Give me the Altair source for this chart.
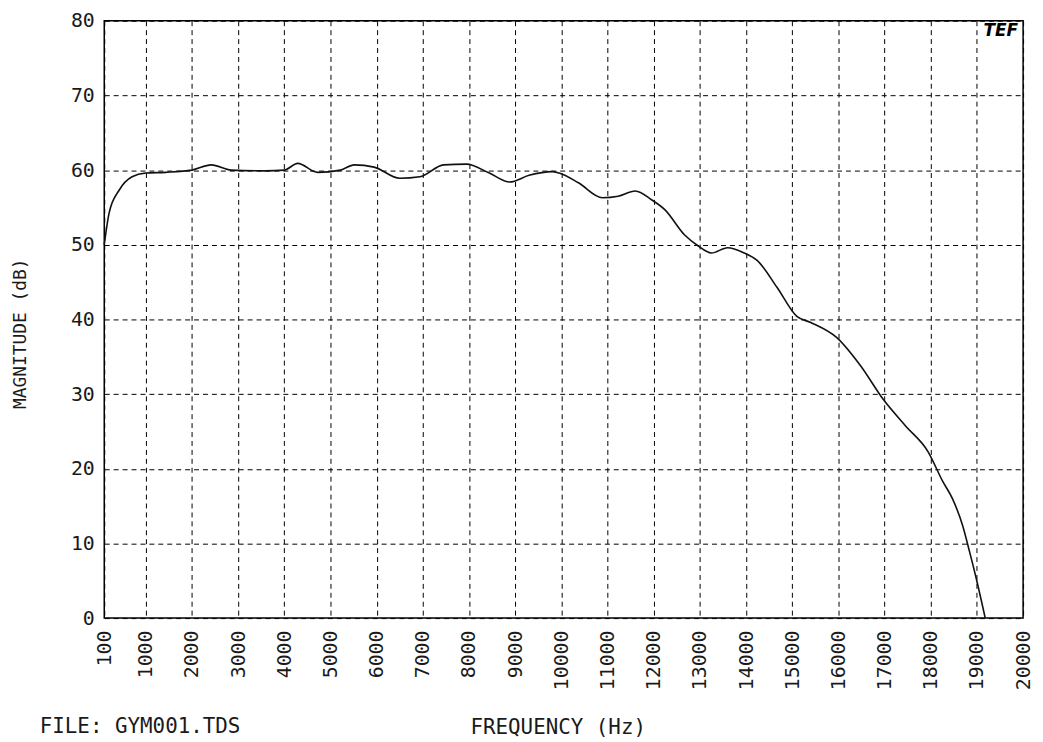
import altair as alt
import pandas as pd

# Frequency response
freq_hz = [100, 207, 422, 702, 1000, 1430, 2000, 2420, 2850, 3580, 4000, 4290,
           4720, 5215, 5515, 5945, 6500, 6935, 7450, 7945, 8440, 8880, 9300,
           9800, 9950, 10370, 10890, 11230, 11600, 11960, 12240, 12670, 12950,
           13250, 13600, 13960, 14240, 14670, 15100, 15400, 15960, 16480,
           16970, 17460, 17940, 18260, 18470, 18690, 18840, 18970, 19180]
magnitude_db = [50.0, 54.3, 57.3, 59.1, 59.6, 59.7, 60.0, 60.7, 60.0, 59.9, 60.0, 60.9,
                59.7, 60.0, 60.7, 60.4, 58.9, 59.1, 60.7, 60.8, 59.6, 58.4, 59.3,
                59.8, 59.6, 58.3, 56.3, 56.5, 57.2, 56.0, 54.7, 51.3, 49.9,
                48.9, 49.6, 48.9, 47.9, 44.3, 40.4, 39.6, 37.6, 33.8,
                29.3, 25.7, 22.3, 18.3, 16.0, 12.4, 8.9, 5.7, 0.0]

x_ticks = [100, 1000, 2000, 3000, 4000, 5000, 6000, 7000, 8000, 9000, 10000,
           11000, 12000, 13000, 14000, 15000, 16000, 17000, 18000, 19000, 20000]
y_ticks = [0, 10, 20, 30, 40, 50, 60, 70, 80]

x_title = "FREQUENCY (Hz)"
y_title = "MAGNITUDE (dB)"
file_note = "FILE: GYM001.TDS"
logo_text = "TEF"

df = pd.DataFrame({"freq": freq_hz, "mag": magnitude_db})

FONT = "DejaVu Sans Mono"
INK = "#1a1a1a"

W, H = 926, 602

x_enc = alt.X(
    "freq:Q",
    scale=alt.Scale(domain=[100, 20000], nice=False, zero=False),
    axis=alt.Axis(
        values=x_ticks, format="d", labelAngle=-90, labelAlign="right",
        labelBaseline="middle", labelPadding=12, labelFontSize=20,
        labelFont=FONT, labelColor=INK, ticks=False, domain=False,
        grid=True, gridColor="#000", gridDash=[5, 4], gridWidth=1,
        labelOverlap=False, labelFlush=False,
        title=x_title, titleFont=FONT, titleFontSize=21, titleFontWeight="normal",
        titleColor=INK, titleAnchor="start", titleAlign="center",
        titleBaseline="alphabetic", titleX=457, titleY=116,
    ),
)
y_enc = alt.Y(
    "mag:Q",
    scale=alt.Scale(domain=[0, 80], nice=False),
    axis=alt.Axis(
        values=y_ticks, labelPadding=10, labelFontSize=20, labelFont=FONT,
        labelColor=INK, ticks=False, domain=False,
        grid=True, gridColor="#000", gridDash=[5, 4], gridWidth=1,
        labelFlush=False,
        title=y_title, titleFont=FONT, titleFontSize=18, titleFontWeight="normal",
        titleColor=INK, titleAngle=270, titleAlign="center",
        titleBaseline="middle", titleX=-84, titleY=315,
    ),
)

line = alt.Chart(df).mark_line(
    color="#111", strokeWidth=1.6, interpolate="monotone"
).encode(x=x_enc, y=y_enc)

note = alt.Chart(pd.DataFrame({"t": [file_note]})).mark_text(
    font=FONT, fontSize=21, color=INK, align="left", baseline="alphabetic"
).encode(text="t:N", x=alt.value(-65), y=alt.value(718))

logo = alt.Chart(pd.DataFrame({"t": [logo_text]})).mark_text(
    font="DejaVu Sans", fontSize=17, fontWeight="bold", fontStyle="italic",
    color="#000", align="right", baseline="top"
).encode(text="t:N", x=alt.value(W - 5), y=alt.value(2))

chart = alt.layer(line, note, logo).properties(
    width=W, height=H,
    autosize=alt.AutoSizeParams(type="none"),
    padding={"left": 97, "top": 10, "right": 12, "bottom": 122},
    background="white",
).configure_view(
    stroke="#000", strokeWidth=1.5
)

chart.save("out.html", embed_options={"renderer": "svg", "actions": False})
